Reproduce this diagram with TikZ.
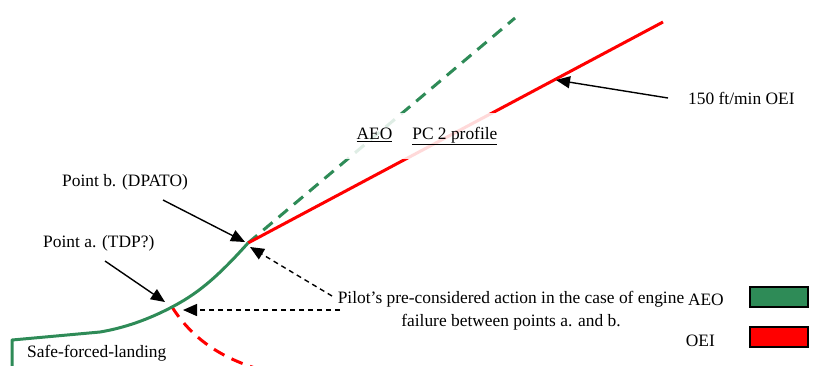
\documentclass[tikz,border=0pt]{standalone}
\usepackage{fontspec}
\setmainfont{Liberation Serif}
\usetikzlibrary{arrows.meta}
\definecolor{aeo}{RGB}{46,139,87}
\definecolor{oei}{RGB}{255,0,0}
\tikzset{
  lbl/.style={font=\fontsize{17.4}{23}\selectfont, inner sep=0pt},
  aeoline/.style={draw=aeo, line width=3pt},
  oeiline/.style={draw=oei, line width=3pt},
  pointer/.style={draw=black, line width=1.4pt, -{Triangle[length=14pt,width=12pt]}},
  dpointer/.style={draw=black, line width=1.4pt, dash pattern=on 5pt off 4pt, -{Triangle[length=14pt,width=12pt]}},
  legbox/.style={draw=black, line width=1.2pt, minimum width=58pt, minimum height=20pt, inner sep=0pt},
}
\begin{document}
\begin{tikzpicture}[x=1pt,y=-1pt]
\useasboundingbox (0,0) rectangle (818,365);
% key points
\coordinate (start) at (12,367);
\coordinate (corner) at (12,340);
\coordinate (flat) at (100,332);
\coordinate (pa) at (172,307);
\coordinate (pb) at (248,243);
\coordinate (aeoend) at (515,18);
\coordinate (oeiend) at (663,22);
\coordinate (oeidown) at (255,368);
% paths
\draw[aeoline, dash pattern=on 12pt off 8pt] (pb) -- (aeoend);
\draw[oeiline] (pb) -- (oeiend);
\draw[oeiline, dash pattern=on 12pt off 8pt] (pa) .. controls (190,335) and (215,355) .. (oeidown);
\draw[aeoline, line join=round] (start) -- (corner) -- (flat) .. controls (130,327) and (155,316) .. (pa) .. controls (195,295) and (215,280) .. (pb);
% profile label with translucent box
\node[lbl, fill=white, fill opacity=0.85, text opacity=1, minimum height=46pt, minimum width=165pt] (prof) at (427,136) {\underline{AEO}\hspace{20pt}\underline{PC 2 profile}};
% labels
\node[lbl, anchor=base west] (lb) at (62,186) {Point b. (DPATO)};
\node[lbl, anchor=base west] (la) at (43,247) {Point a. (TDP?)};
\node[lbl, anchor=base west] (lsafe) at (27,357) {Safe-forced-landing};
\node[lbl, anchor=base west] (lrate) at (688,104) {150 ft/min OEI};
\node[lbl, align=center, anchor=north] (lpilot) at (511,291) {Pilot’s pre-considered action in the case of engine\\failure between points a. and b.};
% pointer tails
\coordinate (tb) at (163,200);
\coordinate (ta) at (105,261);
\coordinate (trate) at (668,98);
\coordinate (rateon) at (556,80);
\coordinate (tpb) at (332,296);
\coordinate (tpa) at (340,310);
\coordinate (pbtip) at (245,242);
\coordinate (patip) at (165,302);
\coordinate (pbtip2) at (250,247);
\coordinate (patip2) at (183,310);
\draw[pointer] (tb) -- (pbtip);
\draw[pointer] (ta) -- (patip);
\draw[pointer] (trate) -- (rateon);
\draw[dpointer] (tpb) -- (pbtip2);
\draw[dpointer] (tpa) -- (patip2);
% legend
\node[legbox, fill=aeo] (kaeo) at (779,297) {};
\node[legbox, fill=oei] (koei) at (779,337) {};
\node[lbl, anchor=base east] (taeo) at (724,305) {AEO};
\node[lbl, anchor=base east] (toei) at (715,346) {OEI};
\end{tikzpicture}
\end{document}
